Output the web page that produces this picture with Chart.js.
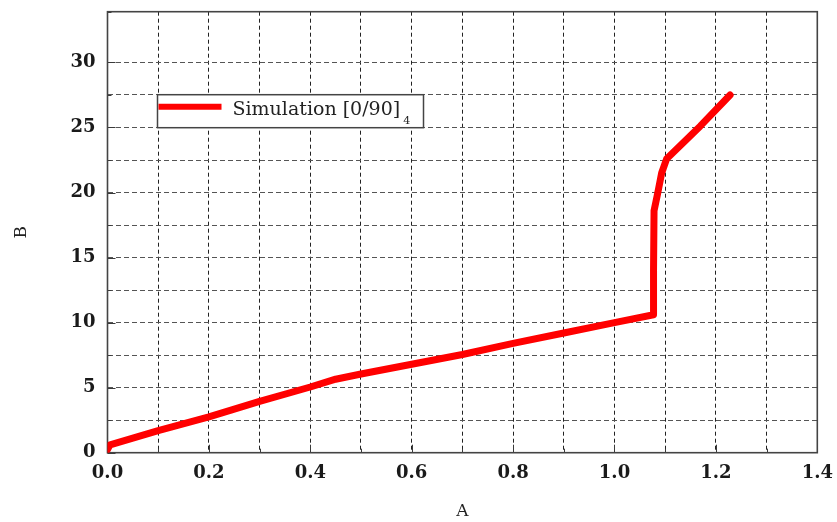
<!DOCTYPE html>
<html>
<head>
<meta charset="utf-8">
<script src="https://cdn.jsdelivr.net/npm/chart.js@4.4.0/dist/chart.umd.min.js"></script>
<style>
  html, body { margin: 0; padding: 0; background: #fff; }
  canvas { display: block; }
</style>
</head>
<body>
<canvas id="chart" width="837" height="522"></canvas>
<script>
// Simulated response curve
const valuesA = [0.0, 0.005, 0.1, 0.2, 0.3, 0.4, 0.45, 0.5, 0.6, 0.7, 0.8, 0.9, 1.0, 1.077, 1.077, 1.078, 1.085, 1.093, 1.103, 1.169, 1.228];
const valuesB = [0.25, 0.6, 1.7, 2.75, 3.95, 5.05, 5.65, 6.05, 6.8, 7.55, 8.4, 9.2, 10.0, 10.6, 14.0, 18.6, 19.9, 21.5, 22.6, 25.1, 27.5];

// Labelled ticks on each axis
const xTickLabels = [0.0, 0.2, 0.4, 0.6, 0.8, 1.0, 1.2, 1.4];
const yTickLabels = [0, 5, 10, 15, 20, 25, 30];

const seriesName = 'Simulation [0/90]';
const seriesSubscript = '4';
const xTitle = 'A';
const yTitle = 'B';

const points = valuesA.map((a, i) => ({ x: a, y: valuesB[i] }));

const isLabelled = (list, v) => list.some(t => Math.abs(t - v) < 1e-6);
const SERIF = "'DejaVu Serif', 'Liberation Serif', serif";

// Keep the plot box fixed regardless of label overhang
const noOverhang = s => {
  s.paddingTop = 0; s.paddingBottom = 0; s.paddingLeft = 0; s.paddingRight = 0;
};

// Frame around the plot area plus short inward tick marks
const framePlugin = {
  id: 'frame',
  beforeDatasetsDraw(chart) {
    const { ctx, chartArea: a, scales } = chart;
    ctx.save();
    ctx.strokeStyle = '#3a3a3a';
    ctx.lineWidth = 1;
    ctx.setLineDash([]);
    ctx.beginPath();
    scales.x.ticks.forEach(t => {
      const px = Math.round(scales.x.getPixelForValue(t.value)) + 0.5;
      const len = isLabelled(xTickLabels, t.value) ? 8 : 4;
      ctx.moveTo(px, a.bottom);
      ctx.lineTo(px, a.bottom - len);
    });
    scales.y.ticks.forEach(t => {
      const py = Math.round(scales.y.getPixelForValue(t.value)) + 0.5;
      const len = isLabelled(yTickLabels, t.value) ? 8 : 4;
      ctx.moveTo(a.left, py);
      ctx.lineTo(a.left + len, py);
    });
    ctx.stroke();
    ctx.lineWidth = 1.6;
    ctx.strokeStyle = '#444';
    ctx.strokeRect(a.left, a.top, a.right - a.left, a.bottom - a.top);
    ctx.restore();
  }
};

// Boxed legend with a subscript in the series name
const legendPlugin = {
  id: 'boxLegend',
  afterDraw(chart) {
    const { ctx, chartArea: a } = chart;
    const ds = chart.data.datasets[0];
    const bx = a.left + 50, by = a.top + 83, bw = 266, bh = 33;
    ctx.save();
    ctx.fillStyle = '#fff';
    ctx.fillRect(bx, by, bw, bh);
    ctx.strokeStyle = '#444';
    ctx.lineWidth = 1.5;
    ctx.strokeRect(bx, by, bw, bh);
    ctx.strokeStyle = ds.borderColor;
    ctx.lineWidth = 6;
    ctx.lineCap = 'butt';
    ctx.beginPath();
    ctx.moveTo(bx + 1, by + 12);
    ctx.lineTo(bx + 64, by + 12);
    ctx.stroke();
    ctx.fillStyle = '#222';
    ctx.textBaseline = 'alphabetic';
    ctx.font = '19px ' + SERIF;
    ctx.fillText(ds.label, bx + 75, by + 20);
    const w = ctx.measureText(ds.label).width;
    ctx.font = '11px ' + SERIF;
    ctx.fillText(seriesSubscript, bx + 75 + w + 3, by + 29);
    ctx.restore();
  }
};

new Chart(document.getElementById('chart'), {
  type: 'line',
  data: {
    datasets: [{
      label: seriesName,
      data: points,
      borderColor: '#ff0000',
      borderWidth: 7,
      borderCapStyle: 'round',
      borderJoinStyle: 'round',
      pointRadius: 0,
      tension: 0,
      fill: false
    }]
  },
  options: {
    responsive: false,
    animation: false,
    devicePixelRatio: 1,
    layout: { padding: { left: 0, right: 19.7, top: 11.7, bottom: 0 } },
    plugins: { legend: { display: false }, tooltip: { enabled: false } },
    scales: {
      x: {
        type: 'linear',
        position: 'bottom',
        min: 0,
        max: 1.4,
        afterFit(s) { s.height = 69.3; noOverhang(s); },
        ticks: {
          stepSize: 0.1,
          autoSkip: false,
          maxRotation: 0,
          padding: 10,
          color: '#1a1a1a',
          font: { family: SERIF, weight: 'bold', size: 18 },
          callback: v => isLabelled(xTickLabels, v) ? v.toFixed(1) : ''
        },
        grid: { color: '#222', lineWidth: 1, drawTicks: false },
        border: { display: false, dash: [4, 3] },
        title: {
          display: true,
          text: xTitle,
          color: '#222',
          font: { family: SERIF, size: 17 },
          padding: { top: 1, bottom: 0 }
        }
      },
      y: {
        type: 'linear',
        position: 'left',
        min: 0,
        max: 33.9,
        afterFit(s) { s.width = 107.5; noOverhang(s); },
        ticks: {
          stepSize: 2.5,
          autoSkip: false,
          padding: 12,
          color: '#1a1a1a',
          font: { family: SERIF, weight: 'bold', size: 18 },
          callback: v => isLabelled(yTickLabels, v) ? String(v) : ''
        },
        grid: { color: '#555', lineWidth: 1, drawTicks: false },
        border: { display: false, dash: [5, 3] },
        title: {
          display: true,
          text: yTitle,
          color: '#222',
          font: { family: SERIF, size: 17 },
          padding: { top: 11, bottom: 0 }
        }
      }
    }
  },
  plugins: [framePlugin, legendPlugin]
});
</script>
</body>
</html>
